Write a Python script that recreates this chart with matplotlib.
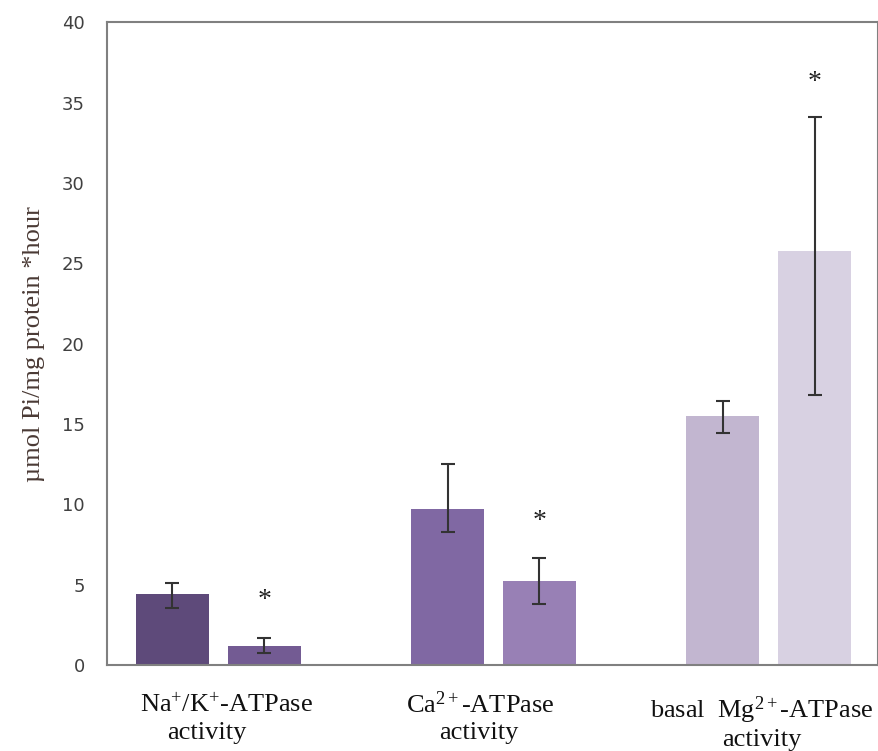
import numpy as np
import matplotlib.pyplot as plt

plt.rcParams['mathtext.fontset'] = 'custom'
plt.rcParams['mathtext.rm'] = 'Liberation Serif'
plt.rcParams['mathtext.it'] = 'Liberation Serif:italic'

# bar values (umol Pi/mg protein *hour)
groups = ['Na$^{+}$/K$^{+}$-ATPase', 'Ca$^{2+}$-ATPase', 'basal  Mg$^{2+}$-ATPase']
control_vals = [4.42, 9.70, 15.49]
treated_vals = [1.18, 5.23, 25.75]
control_lo = [0.87, 1.43, 1.06]
control_hi = [0.68, 2.80, 0.93]
treated_lo = [0.43, 1.44, 8.95]
treated_hi = [0.50, 1.43, 8.34]
star_y = [4.04, 8.9, 36.27]

control_colors = ['#5e4a7a', '#8068a3', '#c2b6d0']
treated_colors = ['#735b93', '#9880b5', '#d8d1e2']

x = np.arange(len(groups))
w = 0.265
off = 0.167

fig = plt.figure(figsize=(8.79, 7.51), dpi=100)
ax = fig.add_axes([0.1217, 0.1145, 0.877, 0.856])

ax.bar(x - off, control_vals, w, color=control_colors)
ax.bar(x + off, treated_vals, w, color=treated_colors)
ax.errorbar(x - off, control_vals, yerr=[control_lo, control_hi], fmt='none',
            ecolor='#333333', elinewidth=1.5, capsize=5, capthick=1.5)
ax.errorbar(x + off, treated_vals, yerr=[treated_lo, treated_hi], fmt='none',
            ecolor='#333333', elinewidth=1.5, capsize=5, capthick=1.5)

for xi, sy in zip(x + off, star_y):
    ax.text(xi, sy, '*', ha='center', va='center', fontsize=20,
            family='Liberation Serif', color='#222222')

ax.set_xlim(-0.404, 2.396)
ax.set_ylim(0, 40)
ax.set_yticks(range(0, 41, 5))
ax.set_xticks([])
ax.tick_params(axis='y', length=0, pad=16, labelsize=13, labelcolor='#404040')
for s in ax.spines.values():
    s.set_color('#808080')
    s.set_linewidth(1.5)

ax.set_ylabel('µmol Pi/mg protein *hour', family='Liberation Serif',
              fontsize=19, color='#4a3a35', labelpad=12)

trans = ax.get_xaxis_transform()
line1_dx = [0.03, -0.048, -0.026]
line2_dx = [-0.04, -0.055, -0.026]
line1_y = [-0.062, -0.062, -0.07]
line2_y = [-0.106, -0.106, -0.116]
for i, g in enumerate(groups):
    ax.text(x[i] + line1_dx[i], line1_y[i], g, transform=trans, ha='center',
            va='center', family='Liberation Serif', fontsize=19, color='#111111')
    ax.text(x[i] + line2_dx[i], line2_y[i], 'activity', transform=trans,
            ha='center', va='center', family='Liberation Serif', fontsize=19,
            color='#111111')

fig.savefig('out.png', dpi=100)
